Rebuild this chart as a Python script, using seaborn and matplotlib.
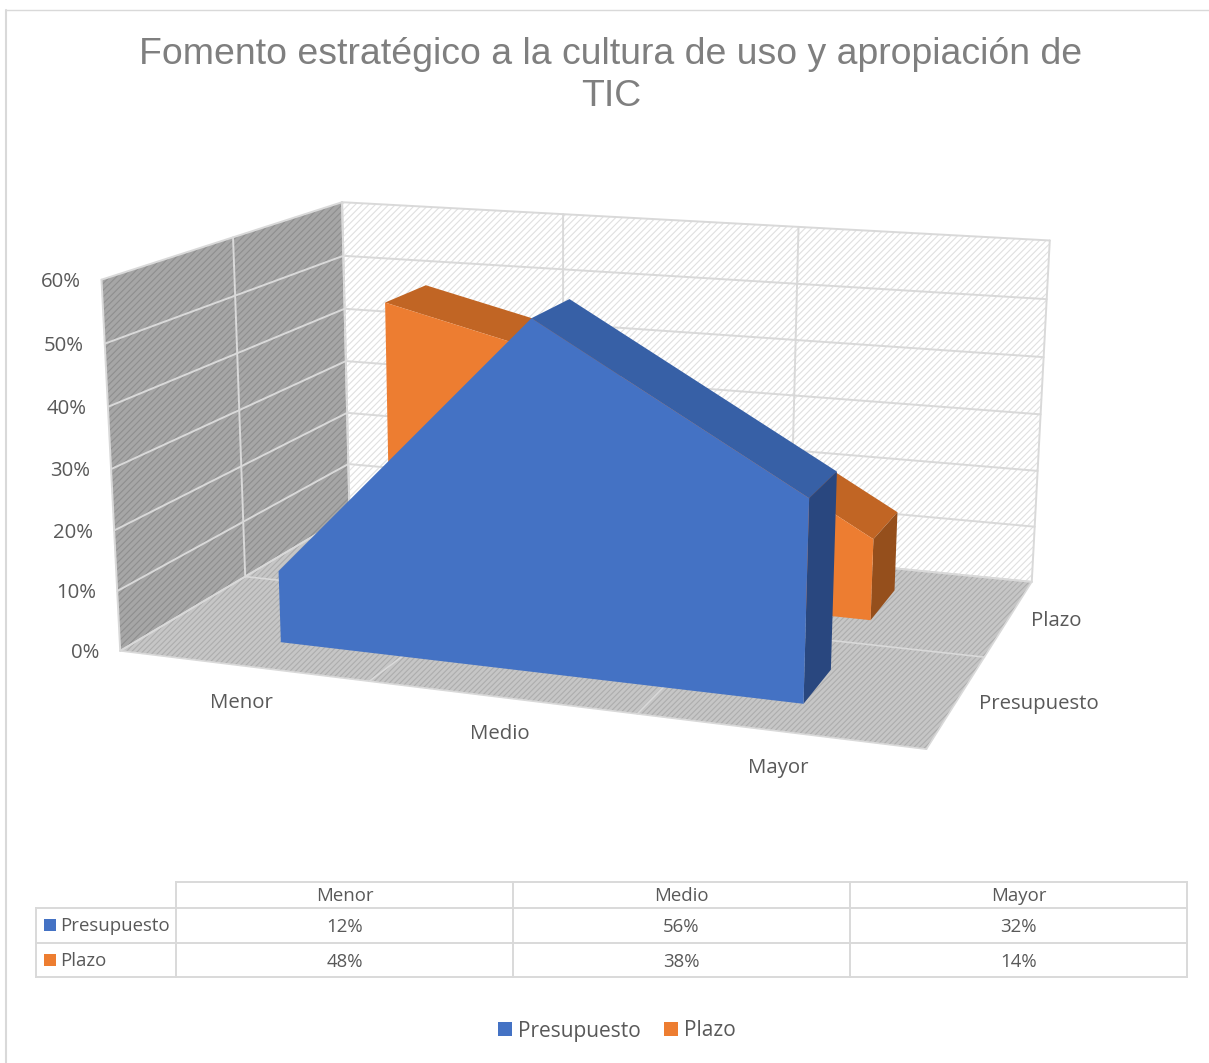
import numpy as np
import matplotlib
matplotlib.use("Agg")
import matplotlib.pyplot as plt
from matplotlib.patches import Polygon, Patch
import seaborn as sns

# ---- data ----
title = "Fomento estratégico a la cultura de uso y apropiación de\nTIC"
categories = ["Menor", "Medio", "Mayor"]
series_names = ["Presupuesto", "Plazo"]
presupuesto = [0.12, 0.56, 0.32]
plazo = [0.48, 0.38, 0.14]
value_ticks = [0.0, 0.1, 0.2, 0.3, 0.4, 0.5, 0.6]
palette = sns.color_palette(["#4472C4", "#ED7D31"])
top_cols = ["#3760A6", "#C16524"]
side_cols = ["#29477F", "#954F1C"]

# ---- layout of the 3D box: calibration (unit box -> picture) ----
calib_world = np.array([
    [0, 0, 0], [1, 0, 0], [1, 1, 0], [0, 1, 0],
    [0, 0, .6], [0, 1, .6], [1, 1, .6],
    [0, .5, 0], [0, .5, .6], [1, .5, 0],
    [1/3, 0, 0], [2/3, 0, 0], [1/3, 1, .6], [2/3, 1, .6]], float)
calib_pix = np.array([
    [119, 651], [927, 750], [1032, 582], [350, 517],
    [101, 281], [342, 201], [1050, 240],
    [245, 574], [234, 238], [983, 657],
    [370, 680], [638, 714], [563, 214], [798, 227]], float)

def fit_projection(w, p):
    rows = []
    for (X, Y, Z), (u, v) in zip(w, p):
        rows.append([X, Y, Z, 1, 0, 0, 0, 0, -u*X, -u*Y, -u*Z, -u])
        rows.append([0, 0, 0, 0, X, Y, Z, 1, -v*X, -v*Y, -v*Z, -v])
    _, _, vt = np.linalg.svd(np.array(rows))
    return vt[-1].reshape(3, 4)

P = fit_projection(calib_world, calib_pix)

def proj(x, y, z):
    h = P @ np.array([x, y, z, 1.0])
    return (h[0] / h[2], h[1] / h[2])

# ---- figure ----
sns.set_theme(style="white")
plt.rcParams["font.family"] = ["Open Sans", "DejaVu Sans"]
plt.rcParams["hatch.linewidth"] = 0.8
fig = plt.figure(figsize=(12.09, 10.63), dpi=100, facecolor="white")
ax = fig.add_axes([0, 0, 1, 1])
ax.set_xlim(0, 1209)
ax.set_ylim(1063, 0)
ax.axis("off")

GRID = "#d9d9d9"
TXT = "#595959"

# outer chart border
ax.plot([6, 6], [10, 1063], color=GRID, lw=1.5, zorder=1)
ax.plot([6, 1209], [10, 10], color=GRID, lw=1.0, zorder=1)

# walls and floor
def face(pts, fc, hatch=None, ec="none", z=2):
    ax.add_patch(Polygon([proj(*p) for p in pts], closed=True, facecolor=fc,
                         hatch=hatch, edgecolor=ec, lw=0, zorder=z))

zmax = value_ticks[-1]
face([(0, 0, 0), (0, 1, 0), (0, 1, zmax), (0, 0, zmax)], "#a6a6a6", "/////", "#8e8e8e")
face([(0, 1, 0), (1, 1, 0), (1, 1, zmax), (0, 1, zmax)], "#ffffff", "/////", "#e0e0e0")
face([(0, 0, 0), (1, 0, 0), (1, 1, 0), (0, 1, 0)], "#c6c6c6", "//////", "#adadad")

def seg(a, b, lw=1.4):
    pa, pb = proj(*a), proj(*b)
    ax.plot([pa[0], pb[0]], [pa[1], pb[1]], color=GRID, lw=lw, zorder=3,
            solid_capstyle="round")

for v in value_ticks:
    seg((0, 0, v), (0, 1, v))
    seg((0, 1, v), (1, 1, v))
for frac in (0, 1/3, 2/3, 1):
    seg((frac, 1, 0), (frac, 1, zmax))
    seg((frac, 0, 0), (frac, 1, 0), lw=1.2)
for d in (0, .5, 1):
    seg((0, d, 0), (0, d, zmax))
    seg((0, d, 0), (1, d, 0), lw=1.2)

# areas
x_pos = [0.170, 0.503, 0.836]
depth_bands = [(0.145, 0.337), (0.645, 0.85)]

def area(vals, band, i, zo):
    d0, d1 = band
    # top faces of descending segments (rising ones face away from the viewer)
    for k in range(len(vals) - 1):
        if vals[k + 1] < vals[k]:
            face([(x_pos[k], d0, vals[k]), (x_pos[k + 1], d0, vals[k + 1]),
                  (x_pos[k + 1], d1, vals[k + 1]), (x_pos[k], d1, vals[k])],
                 top_cols[i], z=zo)
    # right side
    face([(x_pos[-1], d0, 0), (x_pos[-1], d1, 0),
          (x_pos[-1], d1, vals[-1]), (x_pos[-1], d0, vals[-1])], side_cols[i], z=zo)
    # front
    pts = [(x_pos[0], d0, 0)] + [(x, d0, v) for x, v in zip(x_pos, vals)] + [(x_pos[-1], d0, 0)]
    face(pts, palette[i], z=zo + 0.1)

area(plazo, depth_bands[1], 1, 4)
area(presupuesto, depth_bands[0], 0, 5)

# axis labels
for v in value_ticks:
    px, py = proj(0, 0, v)
    ax.text(px - 21, py + 2, f"{v*100:.0f}%", ha="right", va="center",
            color=TXT, fontsize=14.7, zorder=6)
for c, frac in zip(categories, (1/6, .5, 5/6)):
    px, py = proj(frac, 0, 0)
    ax.text(px - 1, py + 37, c, ha="center", va="center", color=TXT, fontsize=14.7, zorder=6)
for s, d in zip(series_names, (.25, .75)):
    px, py = proj(1, d, 0)
    ax.text(px + 22, py + 3.5, s, ha="left", va="center", color=TXT, fontsize=14.7, zorder=6)

# title
ax.text(611, 54, title.split("\n")[0], ha="center", va="center", color="#7f7f7f",
        fontsize=26.9, family="Liberation Sans", zorder=6)
ax.text(611, 97, title.split("\n")[1], ha="center", va="center", color="#7f7f7f",
        fontsize=26.9, family="Liberation Sans", zorder=6)

# data table
col_x = [36, 176, 513, 850, 1187]
row_y = [882, 908, 943, 977]
L = dict(color=GRID, lw=1.4, zorder=3, solid_capstyle="projecting")
ax.plot([176, 1187], [row_y[0]] * 2, **L)
for y in row_y[1:]:
    ax.plot([36, 1187], [y, y], **L)
ax.plot([36, 36], [row_y[1], row_y[3]], **L)
for x in col_x[1:]:
    ax.plot([x, x], [row_y[0], row_y[3]], **L)
for j, c in enumerate(categories):
    cx = (col_x[j + 1] + col_x[j + 2]) / 2
    ax.text(cx, 896, c, ha="center", va="center", color=TXT, fontsize=13.4)
    ax.text(cx, 927, f"{presupuesto[j]*100:.0f}%", ha="center", va="center", color=TXT, fontsize=13.4)
    ax.text(cx, 962, f"{plazo[j]*100:.0f}%", ha="center", va="center", color=TXT, fontsize=13.4)
for i, (s, y) in enumerate(zip(series_names, (925, 960))):
    ax.add_patch(Polygon([(44, y - 6), (56, y - 6), (56, y + 6), (44, y + 6)],
                         facecolor=palette[i], edgecolor="none", zorder=4))
    ax.text(60, y + 1, s, ha="left", va="center", color=TXT, fontsize=13.4)

# legend
handles = [Patch(facecolor=palette[i], edgecolor="none", label=series_names[i]) for i in range(2)]
fig.legend(handles=handles, loc="center", bbox_to_anchor=(617 / 1209, 1 - 1031 / 1063),
           ncol=2, frameon=False, fontsize=15, labelcolor=TXT,
           handlelength=0.68, handleheight=0.68, handletextpad=0.3, columnspacing=1.1)

fig.savefig("out.png", dpi=100, facecolor="white")
